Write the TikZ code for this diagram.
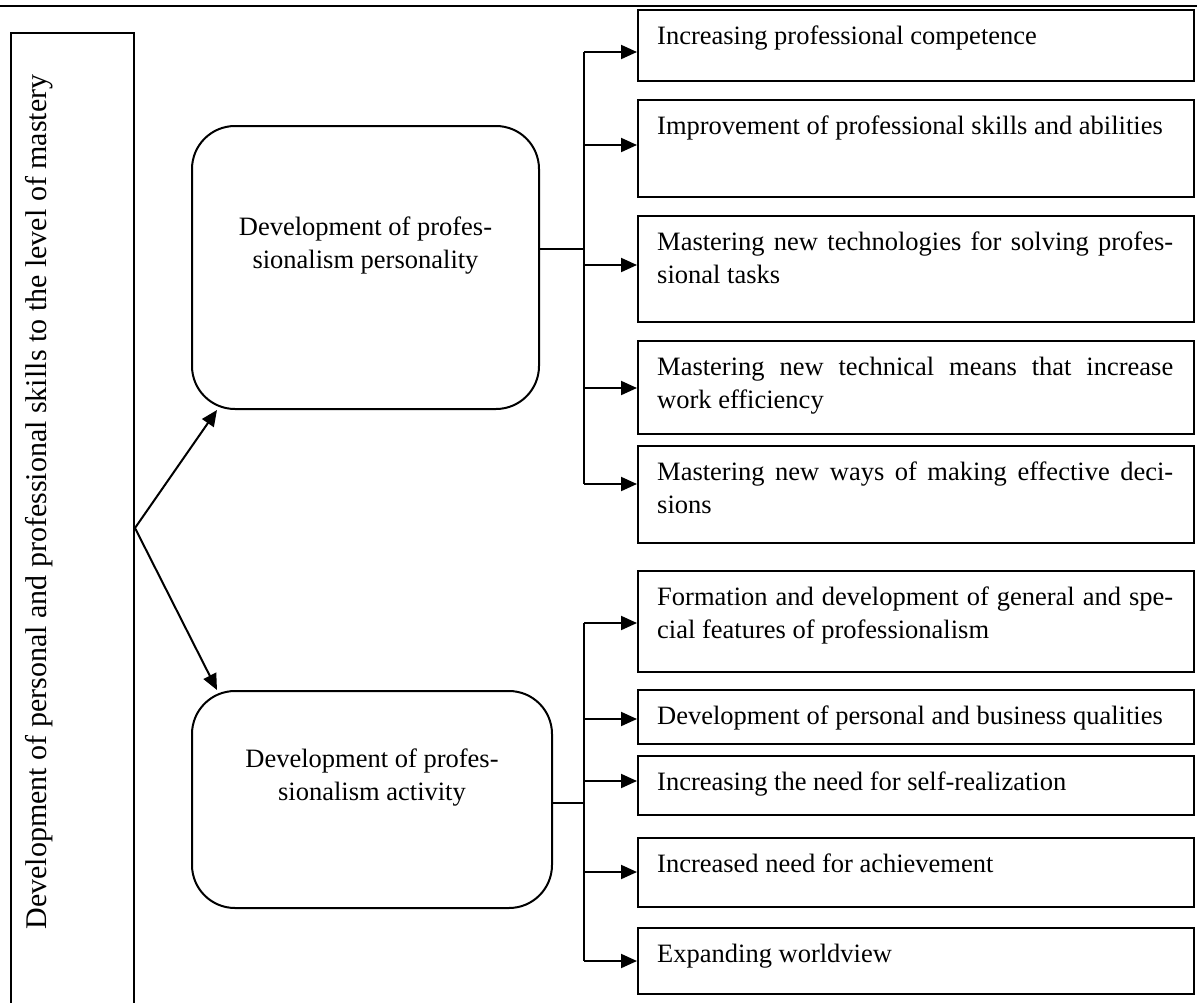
\documentclass[tikz,border=0pt]{standalone}
\usepackage{fontspec}
\setmainfont{Liberation Serif}
\usetikzlibrary{arrows.meta,calc}
\begin{document}
\begin{tikzpicture}[x=1pt,y=-1pt,
  txt/.style={font=\fontsize{26.5}{33}\selectfont},
  item/.style={draw, line width=2pt, rectangle, minimum width=556pt, anchor=north west, inner sep=0pt},
  itemtext/.style={txt, anchor=north west, inner sep=0pt, text width=516pt, align=justify},
  rbox/.style={draw, line width=2pt, rounded corners=43pt, anchor=north west, inner sep=0pt},
  arr/.style={line width=2pt, -{Triangle[length=16pt,width=14pt]}},
  ln/.style={line width=2pt}]
\clip (0,0) rectangle (1197,1002);
\fill[white] (0,0) rectangle (1197,1002);
\draw[line width=2.8pt] (0,6) -- (1197,6);

% left box
\node[draw, line width=2pt, minimum width=123pt, minimum height=990pt, anchor=north west, inner sep=0pt] (L) at (10,32) {};
\node[font=\fontsize{30}{36}\selectfont, rotate=90, anchor=base] (Lt) at (46,502) {Development of personal and professional skills to the level of mastery};

% rounded boxes
\node[rbox, minimum width=347pt, minimum height=283pt] (P1) at (191,125) {};
\node[txt, align=center] (P1t) at ([yshift=22pt]P1.center) {Development of profes-\\sionalism personality};
\node[rbox, minimum width=360pt, minimum height=217pt] (P2) at (191,690) {};
\node[txt, align=center] (P2t) at ([yshift=22pt]P2.center) {Development of profes-\\sionalism activity};

% item boxes
\node[item, minimum height=71pt] (b1) at (637,9) {};
\node[item, minimum height=97pt] (b2) at (637,99) {};
\node[item, minimum height=106pt] (b3) at (637,215) {};
\node[item, minimum height=93pt] (b4) at (637,340) {};
\node[item, minimum height=97pt] (b5) at (637,445) {};
\node[item, minimum height=101pt] (b6) at (637,570) {};
\node[item, minimum height=54pt] (b7) at (637,689) {};
\node[item, minimum height=59pt] (b8) at (637,755) {};
\node[item, minimum height=69pt] (b9) at (637,837) {};
\node[item, minimum height=66pt] (b10) at (637,927) {};

\node[itemtext] (t1) at ([shift={(20pt,-12pt)}]b1.north west) {\strut Increasing professional competence};
\node[itemtext] (t2) at ([shift={(20pt,-12pt)}]b2.north west) {\strut Improvement of professional skills and abilities};
\node[itemtext] (t3) at ([shift={(20pt,-12pt)}]b3.north west) {\strut Mastering new technologies for solving profes-\linebreak sional tasks};
\node[itemtext] (t4) at ([shift={(20pt,-12pt)}]b4.north west) {\strut Mastering new technical means that increase\linebreak work efficiency};
\node[itemtext] (t5) at ([shift={(20pt,-12pt)}]b5.north west) {\strut Mastering new ways of making effective deci-\linebreak sions};
\node[itemtext] (t6) at ([shift={(20pt,-12pt)}]b6.north west) {\strut Formation and development of general and spe-\linebreak cial features of professionalism};
\node[itemtext] (t7) at ([shift={(20pt,-12pt)}]b7.north west) {\strut Development of personal and business qualities};
\node[itemtext] (t8) at ([shift={(20pt,-12pt)}]b8.north west) {\strut Increasing the need for self-realization};
\node[itemtext] (t9) at ([shift={(20pt,-12pt)}]b9.north west) {\strut Increased need for achievement};
\node[itemtext] (t10) at ([shift={(20pt,-12pt)}]b10.north west) {\strut Expanding worldview};

% connectors from left box
\coordinate (j) at (L.east);
\draw[arr] (j) -- ([xshift=26pt]P1.south west);
\draw[arr] (j) -- ([xshift=26pt]P2.north west);

% upper trunk
\coordinate (c1) at (584,249);
\coordinate (u1) at (584,52);
\coordinate (u2) at (584,145);
\coordinate (u3) at (584,265);
\coordinate (u4) at (584,388);
\coordinate (u5) at (584,484);
\draw[ln] (c1 -| P1.east) -- (c1);
\draw[ln] (u1) -- (u5);
\draw[arr] (u1) -- (u1 -| b1.west);
\draw[arr] (u2) -- (u2 -| b2.west);
\draw[arr] (u3) -- (u3 -| b3.west);
\draw[arr] (u4) -- (u4 -| b4.west);
\draw[arr] (u5) -- (u5 -| b5.west);

% lower trunk
\coordinate (c2) at (584,803);
\coordinate (v1) at (584,623);
\coordinate (v2) at (584,719);
\coordinate (v3) at (584,781);
\coordinate (v4) at (584,872);
\coordinate (v5) at (584,961);
\draw[ln] (c2 -| P2.east) -- (c2);
\draw[ln] (v1) -- (v5);
\draw[arr] (v1) -- (v1 -| b6.west);
\draw[arr] (v2) -- (v2 -| b7.west);
\draw[arr] (v3) -- (v3 -| b8.west);
\draw[arr] (v4) -- (v4 -| b9.west);
\draw[arr] (v5) -- (v5 -| b10.west);
\end{tikzpicture}
\end{document}
